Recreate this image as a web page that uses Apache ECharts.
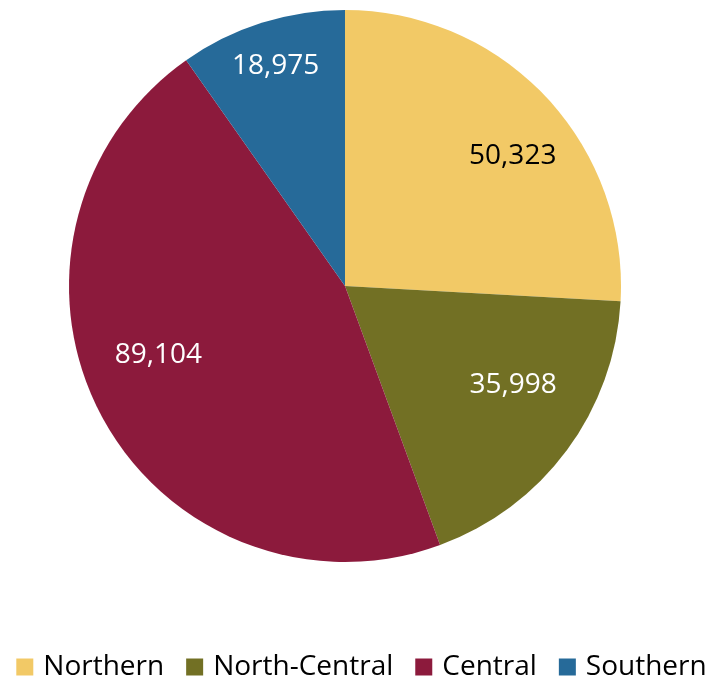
<!DOCTYPE html>
<html>
<head>
<meta charset="utf-8">
<script src="https://cdn.jsdelivr.net/npm/echarts@6/dist/echarts.min.js"></script>
<style>html,body{margin:0;padding:0;background:#fff;}#c{width:723px;height:679px;}</style>
</head>
<body>
<div id="c"></div>
<script>
const categories = ['Northern', 'North-Central', 'Central', 'Southern'];
const values = [50323, 35998, 89104, 18975];

// styling
const colors = ['#F2C966', '#727024', '#8C1A3C', '#266A99'];
const labelColors = ['#000000', '#ffffff', '#ffffff', '#ffffff'];
const labelNudge = [[13, 16], [-3, -28], [2, -30], [-5, -17]];

const chart = echarts.init(document.getElementById('c'));
const data = categories.map((n, i) => ({ name: n, value: values[i], itemStyle: { color: colors[i] } }));
const labelData = categories.map((n, i) => ({
  name: n, value: values[i],
  label: { color: labelColors[i] }
}));
const FONT = '"Open Sans", "Noto Sans", sans-serif';
chart.setOption({
  animation: false,
  legend: {
    data: categories,
    left: 'center',
    top: 648,
    itemWidth: 17,
    itemHeight: 17,
    itemGap: 22,
    icon: 'rect',
    textStyle: { fontFamily: FONT, fontSize: 28, color: '#000', padding: [0, 0, 0, 5] }
  },
  series: [
    {
      type: 'pie',
      center: [345, 286],
      radius: [0, 276],
      startAngle: 90,
      clockwise: true,
      label: { show: false },
      labelLine: { show: false },
      silent: true,
      data: data
    },
    {
      type: 'pie',
      center: [345, 286],
      radius: [144, 276],
      startAngle: 90,
      clockwise: true,
      silent: true,
      itemStyle: { color: 'rgba(0,0,0,0)' },
      label: {
        show: true,
        position: 'inside',
        fontFamily: FONT,
        fontSize: 28,
        formatter: p => p.value.toLocaleString('en-US')
      },
      labelLayout: p => ({ dx: labelNudge[p.dataIndex][0], dy: labelNudge[p.dataIndex][1] }),
      labelLine: { show: false },
      data: labelData
    }
  ]
});
</script>
</body>
</html>
